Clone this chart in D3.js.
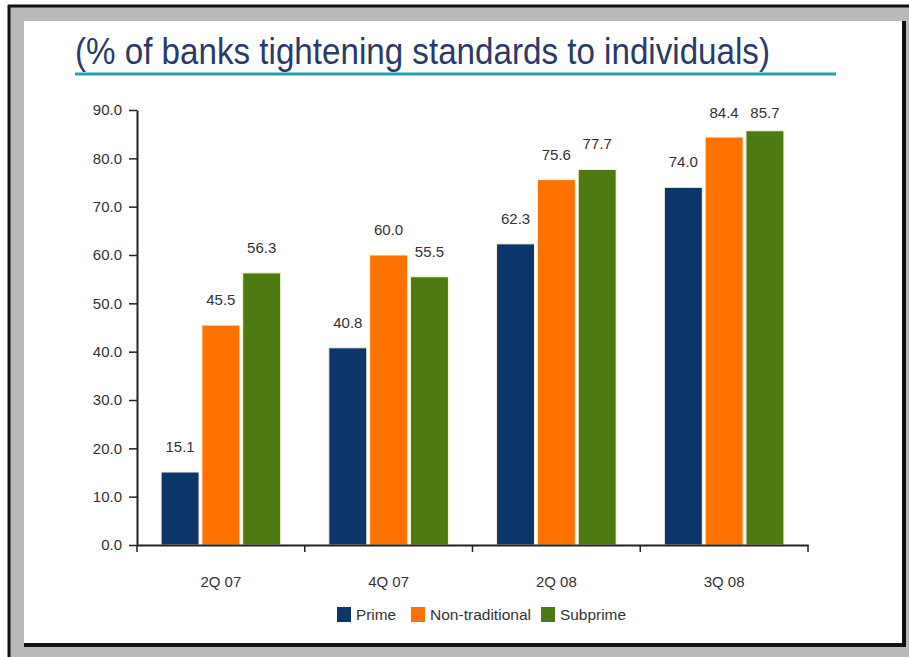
<!DOCTYPE html>
<html>
<head>
<meta charset="utf-8">
<script src="https://cdn.jsdelivr.net/npm/d3@7"></script>
<style>
  html, body { margin: 0; padding: 0; background: #fff; }
  svg { display: block; font-family: "Liberation Sans", Arial, sans-serif; }
</style>
</head>
<body>
<div id="chart"></div>
<script>
// data
const categories = ['2Q 07', '4Q 07', '2Q 08', '3Q 08'];
const seriesNames = ['Prime', 'Non-traditional', 'Subprime'];
const prime = [15.1, 40.8, 62.3, 74.0];
const nonTraditional = [45.5, 60.0, 75.6, 84.4];
const subprime = [56.3, 55.5, 77.7, 85.7];
const yTicks = [0, 10, 20, 30, 40, 50, 60, 70, 80, 90];

const colors = { 'Prime': '#0c356a', 'Non-traditional': '#ff7200', 'Subprime': '#4e7a14' };
const values = { 'Prime': prime, 'Non-traditional': nonTraditional, 'Subprime': subprime };

const W = 909, H = 657;
const svg = d3.select('#chart').append('svg').attr('width', W).attr('height', H);

// slide frame: gray bevel with dark edges
svg.append('rect').attr('x', 8).attr('y', 5).attr('width', W - 8).attr('height', H - 5).attr('fill', '#b9b9b9');
svg.append('line').attr('x1', 8).attr('y1', 6).attr('x2', W).attr('y2', 6).attr('stroke', '#111').attr('stroke-width', 3);
svg.append('line').attr('x1', 9).attr('y1', 5).attr('x2', 9).attr('y2', H).attr('stroke', '#111').attr('stroke-width', 3);
svg.append('rect').attr('x', 24).attr('y', 21).attr('width', 880).attr('height', 624).attr('fill', '#fff');
svg.append('line').attr('x1', 24).attr('y1', 645).attr('x2', 906).attr('y2', 645).attr('stroke', '#111').attr('stroke-width', 4);
svg.append('line').attr('x1', 904).attr('y1', 21).attr('x2', 904).attr('y2', 647).attr('stroke', '#111').attr('stroke-width', 4);

// title + teal rule
svg.append('text')
  .attr('x', 75).attr('y', 64)
  .attr('font-size', 37)
  .attr('font-family', '"Liberation Sans Narrow", "Arial Narrow", "Liberation Sans", sans-serif')
  .attr('fill', '#2b3a68')
  .attr('textLength', 695)
  .attr('lengthAdjust', 'spacingAndGlyphs')
  .text('(% of banks tightening standards to individuals)');
svg.append('line').attr('x1', 75).attr('x2', 836).attr('y1', 74).attr('y2', 74)
  .attr('stroke', '#2a9db4').attr('stroke-width', 3);

// scales
const x0 = d3.scaleBand().domain(categories).range([137, 808]).padding(0);
const x1 = d3.scaleBand().domain(seriesNames).range([0, x0.bandwidth()])
  .paddingInner(0.07).paddingOuter(0.59);
const y = d3.scaleLinear().domain([0, 90]).range([545, 110]);

// y axis
const yAxis = svg.append('g').attr('transform', 'translate(137,0)')
  .call(d3.axisLeft(y).tickValues(yTicks).tickFormat(d3.format('.1f')).tickSize(8).tickPadding(7).tickSizeOuter(0));
yAxis.select('.domain').attr('stroke', '#222').attr('stroke-width', 2);
yAxis.selectAll('.tick line').attr('stroke', '#222').attr('stroke-width', 1.5);
yAxis.selectAll('.tick text').attr('font-size', 15).attr('fill', '#333')
  .attr('font-family', '"Liberation Sans", Arial, sans-serif');

// bars
const groups = svg.append('g').selectAll('g')
  .data(categories)
  .join('g')
  .attr('transform', d => `translate(${x0(d)},0)`);

groups.selectAll('rect')
  .data((c, i) => seriesNames.map(s => ({ s, v: values[s][i] })))
  .join('rect')
  .attr('x', d => x1(d.s))
  .attr('width', x1.bandwidth())
  .attr('y', d => y(d.v))
  .attr('height', d => y(0) - y(d.v))
  .attr('fill', d => colors[d.s])
  .attr('stroke', '#fdf3d6')
  .attr('stroke-width', 1);

groups.selectAll('text')
  .data((c, i) => seriesNames.map(s => ({ s, v: values[s][i] })))
  .join('text')
  .attr('x', d => x1(d.s) + x1.bandwidth() / 2)
  .attr('y', d => Math.max(y(d.v) - 20, 118))
  .attr('text-anchor', 'middle')
  .attr('font-size', 15)
  .attr('fill', '#333')
  .text(d => d3.format('.1f')(d.v));

// x axis
const xAxis = svg.append('g').attr('transform', 'translate(0,545)')
  .call(d3.axisBottom(x0).tickSize(0).tickPadding(31).tickSizeOuter(0));
xAxis.select('.domain').attr('stroke', '#222').attr('stroke-width', 2);
xAxis.selectAll('.tick text').attr('font-size', 15).attr('fill', '#333')
  .attr('font-family', '"Liberation Sans", Arial, sans-serif');
svg.append('g').selectAll('line')
  .data(categories.map(c => x0(c)).concat([x0.range()[1]]))
  .join('line')
  .attr('x1', d => d).attr('x2', d => d)
  .attr('y1', 545).attr('y2', 552)
  .attr('stroke', '#222').attr('stroke-width', 1.5);

// legend
const legendX = [337, 411, 541];
const legendW = [40, 101, 66];
const legend = svg.append('g').selectAll('g')
  .data(seriesNames)
  .join('g')
  .attr('transform', (d, i) => `translate(${legendX[i]},607)`);
legend.append('rect').attr('width', 14).attr('height', 15).attr('fill', d => colors[d]);
legend.append('text').attr('x', 19).attr('y', 13).attr('font-size', 15).attr('fill', '#333')
  .attr('textLength', (d, i) => legendW[i]).attr('lengthAdjust', 'spacingAndGlyphs')
  .text(d => d);
</script>
</body>
</html>
